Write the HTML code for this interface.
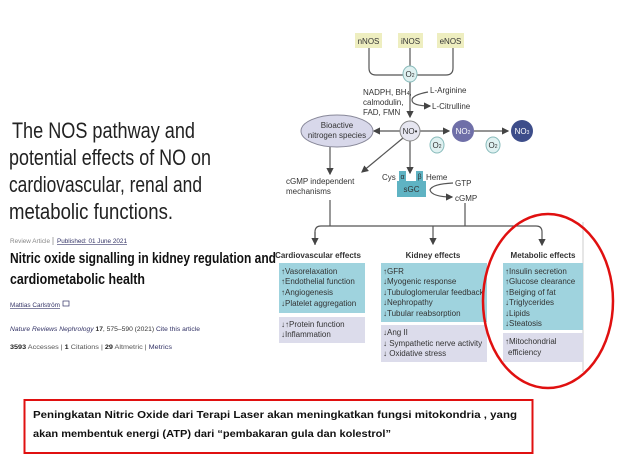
<!DOCTYPE html>
<html><head><meta charset="utf-8"><style>
html,body{margin:0;padding:0;background:#fff;}
svg{display:block;font-family:"Liberation Sans",sans-serif;}
</style></head><body>
<svg width="624" height="461" viewBox="0 0 624 461" xmlns="http://www.w3.org/2000/svg">
<defs><marker id="a" markerWidth="6" markerHeight="6" refX="5" refY="3" orient="auto"><path d="M0,0 L6,3 L0,6z" fill="#444"/></marker></defs>
<rect width="624" height="461" fill="#fff"/>
<!-- left texts -->
<g fill="#222" font-size="22">
<text x="12" y="138" textLength="183" lengthAdjust="spacingAndGlyphs">The NOS pathway and</text>
<text x="9" y="165" textLength="202" lengthAdjust="spacingAndGlyphs">potential effects of NO on</text>
<text x="9" y="192" textLength="193" lengthAdjust="spacingAndGlyphs">cardiovascular, renal and</text>
<text x="9" y="219" textLength="164" lengthAdjust="spacingAndGlyphs">metabolic functions.</text>
</g>
<text x="10" y="243" font-size="6" fill="#888" textLength="40" lengthAdjust="spacingAndGlyphs">Review Article</text>
<line x1="53" y1="237" x2="53" y2="245" stroke="#aaa"/>
<text x="57" y="243" font-size="6" fill="#336" text-decoration="underline" textLength="70" lengthAdjust="spacingAndGlyphs">Published: 01 June 2021</text>
<text x="10" y="263" font-size="15" font-weight="bold" fill="#111" textLength="266" lengthAdjust="spacingAndGlyphs">Nitric oxide signalling in kidney regulation and</text>
<text x="10" y="284" font-size="15" font-weight="bold" fill="#111" textLength="135" lengthAdjust="spacingAndGlyphs">cardiometabolic health</text>
<text x="10" y="307" font-size="6" fill="#336" text-decoration="underline" textLength="50" lengthAdjust="spacingAndGlyphs">Mattias Carlström</text>
<rect x="63" y="301" width="6" height="5" fill="none" stroke="#336" stroke-width=".7"/>
<text x="10" y="331" font-size="6.5" fill="#333" textLength="190" lengthAdjust="spacingAndGlyphs"><tspan fill="#336" font-style="italic">Nature Reviews Nephrology</tspan> <tspan font-weight="bold">17</tspan>, 575–590 (2021)   <tspan fill="#336">Cite this article</tspan></text>
<text x="10" y="349" font-size="6.5" fill="#555" textLength="162" lengthAdjust="spacingAndGlyphs"><tspan font-weight="bold" fill="#222">3593</tspan> Accesses | <tspan font-weight="bold" fill="#222">1</tspan> Citations | <tspan font-weight="bold" fill="#222">29</tspan> Altmetric | <tspan fill="#336">Metrics</tspan></text>

<!-- diagram -->
<line x1="583" y1="222" x2="583" y2="372" stroke="#ccc"/>
<g stroke="#555" stroke-width="1.2" fill="none">
<path d="M369,48 V68 Q369,75 376,75 H446 Q453,75 453,68 V48"/>
<line x1="410" y1="48" x2="410" y2="66"/>
<line x1="410" y1="81" x2="410" y2="117" marker-end="url(#a)"/>
<path d="M428,92 Q412,95 412,100 Q412,106 430,106" marker-end="url(#a)"/>
<line x1="400" y1="131" x2="374" y2="131" marker-end="url(#a)"/>
<line x1="420" y1="131" x2="449" y2="131" marker-end="url(#a)"/>
<line x1="474" y1="131" x2="508" y2="131" marker-end="url(#a)"/>
<line x1="330" y1="147" x2="330" y2="174" marker-end="url(#a)"/>
<line x1="403" y1="138" x2="362" y2="172" marker-end="url(#a)"/>
<line x1="410" y1="141" x2="410" y2="173" marker-end="url(#a)"/>
<path d="M453,183 Q432,184 430,190 Q432,197 452,197" marker-end="url(#a)"/>
<line x1="330" y1="200" x2="330" y2="226"/>
<line x1="465" y1="203" x2="465" y2="226"/>
<path d="M315,245 V232 Q315,226 321,226 H536 Q542,226 542,232 V245" marker-end="url(#a)"/>
<line x1="315" y1="232" x2="315" y2="244" marker-end="url(#a)"/>
<line x1="433" y1="226" x2="433" y2="244" marker-end="url(#a)"/>
</g>
<g font-size="8" fill="#333" text-anchor="middle">
<rect x="355" y="33" width="27" height="15" fill="#eeeec0"/><text x="368.5" y="44">nNOS</text>
<rect x="398" y="33" width="25" height="15" fill="#eeeec0"/><text x="410.5" y="44">iNOS</text>
<rect x="437" y="33" width="27" height="15" fill="#eeeec0"/><text x="450.5" y="44">eNOS</text>
<ellipse cx="410" cy="74" rx="7" ry="8" fill="#dff1f1" stroke="#8bb"/><text x="410" y="77">O<tspan font-size="5">2</tspan></text>
<ellipse cx="337" cy="131" rx="36" ry="16" fill="#d8d8ea" stroke="#889"/>
<text x="337" y="128">Bioactive</text><text x="337" y="138">nitrogen species</text>
<circle cx="410" cy="131" r="10" fill="#e6e6f0" stroke="#888"/><text x="410" y="134">NO•</text>
<circle cx="463" cy="131" r="11" fill="#6f6fa8"/><text x="463" y="134" fill="#fff">NO<tspan font-size="5">2</tspan></text>
<circle cx="522" cy="131" r="11" fill="#3d4d8a"/><text x="522" y="134" fill="#fff">NO<tspan font-size="5">3</tspan></text>
<ellipse cx="437" cy="145" rx="7" ry="8" fill="#dff1f1" stroke="#8bb"/><text x="437" y="148">O<tspan font-size="5">2</tspan></text>
<ellipse cx="493" cy="145" rx="7" ry="8" fill="#dff1f1" stroke="#8bb"/><text x="493" y="148">O<tspan font-size="5">2</tspan></text>
<rect x="397" y="181" width="29" height="16" fill="#5fb3c3"/><text x="411.5" y="192">sGC</text>
<rect x="399" y="171" width="7" height="10" fill="#5fb3c3"/><rect x="416" y="171" width="7" height="10" fill="#5fb3c3"/>
<text x="402.5" y="179" font-size="7">α</text><text x="419.5" y="179" font-size="7">β</text>
</g>
<g font-size="8" fill="#333">
<text x="363" y="95">NADPH, BH<tspan font-size="5">4</tspan>,</text>
<text x="363" y="105">calmodulin,</text>
<text x="363" y="115">FAD, FMN</text>
<text x="430" y="93">L-Arginine</text>
<text x="432" y="109">L-Citrulline</text>
<text x="382" y="180">Cys</text><text x="426" y="180">Heme</text>
<text x="455" y="186">GTP</text><text x="455" y="201">cGMP</text>
<text x="286" y="184">cGMP independent</text><text x="286" y="194">mechanisms</text>
</g>
<g font-size="8" fill="#333" font-weight="bold" text-anchor="middle">
<text x="318" y="258">Cardiovascular effects</text>
<text x="433" y="258">Kidney effects</text>
<text x="543" y="258">Metabolic effects</text>
</g>
<rect x="279" y="263" width="86" height="50" fill="#9fd3de"/>
<rect x="279" y="317" width="86" height="26" fill="#dcdceb"/>
<rect x="381" y="263" width="106" height="59" fill="#9fd3de"/>
<rect x="381" y="325" width="106" height="37" fill="#dcdceb"/>
<rect x="503" y="263" width="80" height="67" fill="#9fd3de"/>
<rect x="503" y="333" width="80" height="29" fill="#dcdceb"/>
<g font-size="8" fill="#333">
<text x="281" y="274">↑Vasorelaxation</text><text x="281" y="284">↑Endothelial function</text><text x="281" y="295">↑Angiogenesis</text><text x="281" y="306">↓Platelet aggregation</text>
<text x="281" y="327">↓↑Protein function</text><text x="281" y="337">↓Inflammation</text>
<text x="383" y="274">↑GFR</text><text x="383" y="284">↓Myogenic response</text><text x="383" y="295">↓Tubuloglomerular feedback</text><text x="383" y="305">↓Nephropathy</text><text x="383" y="316">↓Tubular reabsorption</text>
<text x="383" y="335">↓Ang II</text><text x="383" y="346">↓ Sympathetic nerve activity</text><text x="383" y="356">↓ Oxidative stress</text>
<text x="505" y="274">↑Insulin secretion</text><text x="505" y="284">↑Glucose clearance</text><text x="505" y="295">↑Beiging of fat</text><text x="505" y="305">↓Triglycerides</text><text x="505" y="316">↓Lipids</text><text x="505" y="326">↓Steatosis</text>
<text x="505" y="344">↑Mitochondrial</text><text x="508" y="355">efficiency</text>
</g>
<ellipse cx="548" cy="301" rx="65" ry="87" fill="none" stroke="#e01010" stroke-width="2.5"/>
<!-- bottom box -->
<rect x="24.5" y="400" width="508" height="53" fill="#fff" stroke="#e01010" stroke-width="2"/>
<g font-size="10.5" font-weight="bold" fill="#111">
<text x="33" y="418" textLength="484" lengthAdjust="spacingAndGlyphs">Peningkatan Nitric Oxide dari Terapi Laser akan meningkatkan fungsi mitokondria , yang</text>
<text x="33" y="437" textLength="358" lengthAdjust="spacingAndGlyphs">akan membentuk energi (ATP) dari “pembakaran gula dan kolestrol”</text>
</g>
</svg>
</body></html>
